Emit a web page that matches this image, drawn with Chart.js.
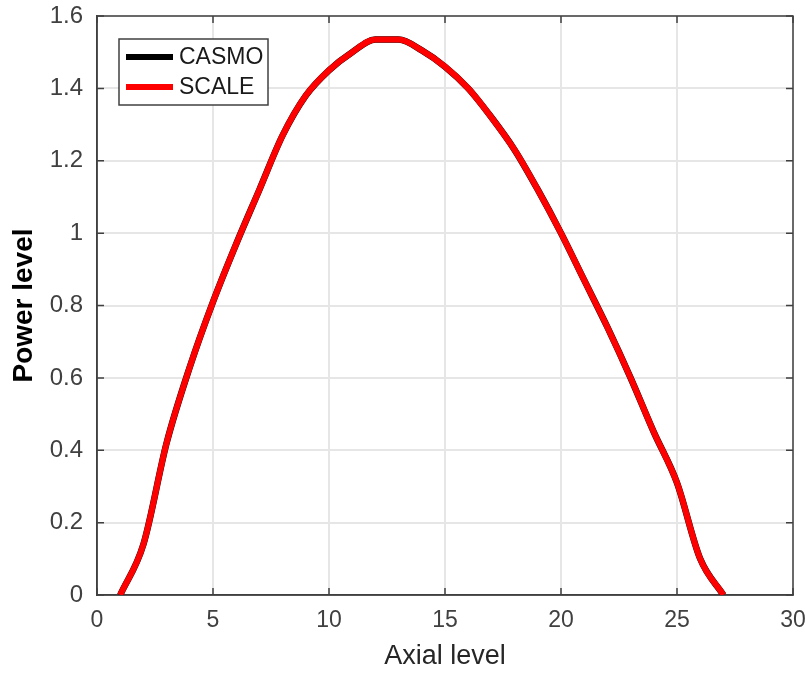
<!DOCTYPE html>
<html>
<head>
<meta charset="utf-8">
<script src="https://cdn.jsdelivr.net/npm/chart.js@4"></script>
<style>
  html, body { margin: 0; padding: 0; background: #fff; }
  #wrap { width: 805px; height: 673px; }
</style>
</head>
<body>
<div id="wrap"><canvas id="powerChart" width="805" height="673"></canvas></div>
<script>
// axial level vs relative power
const axialLevels = [1, 2, 3, 4, 5, 6, 7, 8, 9, 10, 11, 12, 13, 14, 15, 16, 17, 18, 19, 20, 21, 22, 23, 24, 25, 26, 27];
const casmoPower = [0, 0.14, 0.42, 0.63, 0.81, 0.97, 1.12, 1.27, 1.38, 1.45, 1.50, 1.535, 1.535, 1.505, 1.46, 1.40, 1.32, 1.23, 1.12, 1.0, 0.87, 0.74, 0.60, 0.45, 0.31, 0.10, 0];
const scalePower = [0, 0.14, 0.42, 0.63, 0.81, 0.97, 1.12, 1.27, 1.38, 1.45, 1.50, 1.535, 1.535, 1.505, 1.46, 1.40, 1.32, 1.23, 1.12, 1.0, 0.87, 0.74, 0.60, 0.45, 0.31, 0.10, 0];
const xTicks = [0, 5, 10, 15, 20, 25, 30];
const yTicks = [0, 0.2, 0.4, 0.6, 0.8, 1, 1.2, 1.4, 1.6];

const FONT = "'Liberation Sans', Arial, sans-serif";
const AXIS = '#404040';

// matlab style box with inward ticks
const boxPlugin = {
  id: 'box',
  beforeDatasetsDraw(chart) {
    const { ctx, chartArea: a, scales: { x, y } } = chart;
    ctx.save();
    ctx.strokeStyle = AXIS;
    ctx.lineWidth = 1.5;
    ctx.strokeRect(a.left, a.top, a.right - a.left, a.bottom - a.top);
    ctx.beginPath();
    xTicks.forEach(v => {
      const px = x.getPixelForValue(v);
      ctx.moveTo(px, a.bottom); ctx.lineTo(px, a.bottom - 7);
      ctx.moveTo(px, a.top); ctx.lineTo(px, a.top + 7);
    });
    yTicks.forEach(v => {
      const py = y.getPixelForValue(v);
      ctx.moveTo(a.left, py); ctx.lineTo(a.left + 7, py);
      ctx.moveTo(a.right, py); ctx.lineTo(a.right - 7, py);
    });
    ctx.stroke();
    ctx.restore();
  }
};

// legend box in the upper left of the plot
const legendPlugin = {
  id: 'boxLegend',
  afterDatasetsDraw(chart) {
    const { ctx, chartArea: a } = chart;
    const bx = a.left + 22, by = a.top + 23, bw = 149, bh = 66;
    ctx.save();
    ctx.fillStyle = '#fff';
    ctx.fillRect(bx, by, bw, bh);
    ctx.strokeStyle = AXIS;
    ctx.lineWidth = 1.5;
    ctx.strokeRect(bx, by, bw, bh);
    chart.data.datasets.forEach((ds, i) => {
      const ry = by + 18 + i * 30;
      ctx.strokeStyle = ds.borderColor;
      ctx.lineWidth = 6;
      ctx.beginPath();
      ctx.moveTo(bx + 7, ry);
      ctx.lineTo(bx + 54, ry);
      ctx.stroke();
      ctx.fillStyle = '#1a1a1a';
      ctx.font = '23px ' + FONT;
      ctx.textBaseline = 'middle';
      ctx.fillText(ds.label, bx + 60, ry + 1);
    });
    ctx.restore();
  }
};

new Chart(document.getElementById('powerChart'), {
  type: 'line',
  data: {
    datasets: [
      {
        label: 'CASMO',
        data: axialLevels.map((v, i) => ({ x: v, y: casmoPower[i] })),
        borderColor: '#000000',
        borderWidth: 6.5,
        pointRadius: 0,
        cubicInterpolationMode: 'monotone',
        fill: false,
        order: 2
      },
      {
        label: 'SCALE',
        data: axialLevels.map((v, i) => ({ x: v, y: scalePower[i] })),
        borderColor: '#ff0000',
        borderWidth: 6,
        pointRadius: 0,
        cubicInterpolationMode: 'monotone',
        fill: false,
        order: 1
      }
    ]
  },
  options: {
    responsive: false,
    animation: false,
    layout: { padding: { left: 0, right: 12, top: 16, bottom: 0 } },
    plugins: { legend: { display: false }, tooltip: { enabled: false } },
    scales: {
      x: {
        type: 'linear',
        min: 0,
        max: 30,
        afterBuildTicks: s => { s.ticks = xTicks.map(v => ({ value: v })); },
        afterFit: s => { s.height = 78; s.paddingLeft = 0; s.paddingRight = 0; },
        grid: { color: '#e6e6e6', lineWidth: 2, drawTicks: false },
        border: { display: true, color: AXIS, width: 1.5 },
        ticks: { color: AXIS, padding: 12, font: { family: FONT, size: 23 } },
        title: {
          display: true,
          text: 'Axial level',
          color: '#262626',
          padding: { top: 0, bottom: 0 },
          font: { family: FONT, size: 27 }
        }
      },
      y: {
        type: 'linear',
        min: 0,
        max: 1.6,
        afterBuildTicks: s => { s.ticks = yTicks.map(v => ({ value: v })); },
        afterFit: s => { s.width = 97; s.paddingTop = 0; s.paddingBottom = 0; },
        grid: { color: '#e6e6e6', lineWidth: 2, drawTicks: false },
        border: { display: true, color: AXIS, width: 1.5 },
        ticks: {
          color: AXIS,
          padding: 14,
          font: { family: FONT, size: 24 },
          callback: v => String(+v.toFixed(1))
        },
        title: {
          display: true,
          text: 'Power level',
          color: '#000000',
          padding: { top: 7, bottom: 0 },
          font: { family: FONT, size: 28, weight: 'bold' }
        }
      }
    }
  },
  plugins: [boxPlugin, legendPlugin]
});
</script>
</body>
</html>
